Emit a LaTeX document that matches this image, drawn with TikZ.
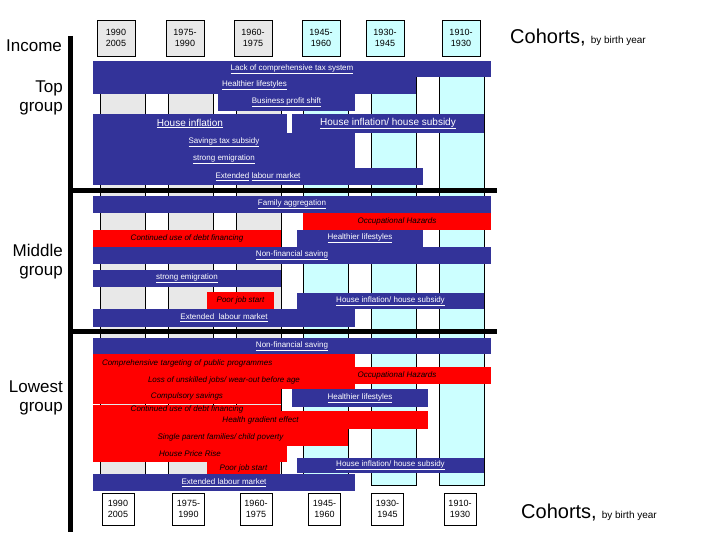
\documentclass[tikz,border=0pt]{standalone}
\usepackage{fontspec}
\setmainfont{Liberation Sans}
\usetikzlibrary{positioning}
\definecolor{barblue}{HTML}{333399}
\definecolor{barred}{HTML}{FF0000}
\definecolor{colgrey}{HTML}{E8E8E8}
\definecolor{colcyan}{HTML}{CCFFFF}
\tikzset{
	bluebar/.style={fill=barblue, text=white, inner sep=0pt, font=\fontsize{8}{9}\selectfont},
	redbar/.style={fill=barred, text=black, inner sep=0pt, font=\fontsize{8}{9}\selectfont\itshape},
	cohort/.style={draw, line width=0.8pt, align=center, inner sep=0pt, font=\fontsize{9}{11}\selectfont},
	grouplabel/.style={anchor=east, align=right, inner sep=0pt, font=\fontsize{17}{19}\selectfont},
	cohortnote/.style={anchor=west, inner sep=0pt},
	column/.style={draw, line width=0.6pt},
	divider/.style={line width=5pt},
}

\begin{document}
\begin{tikzpicture}[x=1pt, y=-1pt]
	\useasboundingbox (0,0) rectangle (720,540);
	
	% cohort columns
	\foreach \x/\c in {100/colgrey, 168/colgrey, 236/colgrey, 303/colcyan, 371/colcyan, 439/colcyan}
		\draw[column, fill=\c] (\x,62) rectangle ++(45,423);
	
	\draw[divider] (70.5,36) -- (70.5,532);
	\draw[divider] (68,190.5) -- (497,190.5);
	\draw[divider] (68,331) -- (497,331);
	
	\node[inner sep=0pt, font=\fontsize{17}{19}\selectfont] (income) at (34,46) {Income};
	\node[grouplabel] (topgrp) at (63,98) {Top\\group};
	\node[grouplabel] (midgrp) at (63,262) {Middle\\group};
	\node[grouplabel] (lowgrp) at (63,398) {Lowest\\group};
	
	% cohorts, top
	\node[cohort, fill=colgrey, minimum width=38, minimum height=36] (top1) at (116,38) {1990\\2005};
	\node[cohort, fill=colgrey, minimum width=38, minimum height=36] (top2) at (185,38) {1975-\\1990};
	\node[cohort, fill=colgrey, minimum width=38, minimum height=36] (top3) at (253,38) {1960-\\1975};
	\node[cohort, fill=colcyan, minimum width=38, minimum height=36] (top4) at (321,38) {1945-\\1960};
	\node[cohort, fill=colcyan, minimum width=38, minimum height=36] (top5) at (385,38) {1930-\\1945};
	\node[cohort, fill=colcyan, minimum width=38, minimum height=36] (top6) at (461,38) {1910-\\1930};
	\node[cohortnote] (cohtop) at (510,38) {{\fontsize{20}{24}\selectfont Cohorts,}\hspace{5pt}{\fontsize{10}{12}\selectfont by birth year}};
	
	% top group
	\node[bluebar, minimum width=398, minimum height=16] (lack) at (292,69) {\underline{Lack of comprehensive tax system}};
	\node[bluebar, minimum width=323, minimum height=17] (healthy1) at (254.5,85.5) {\underline{Healthier lifestyles}};
	\node[bluebar, minimum width=137, minimum height=17] (business) at (286.5,102.5) {\underline{Business profit shift}};
	\node[bluebar, minimum width=194, minimum height=19, font=\fontsize{10}{12}\selectfont] (houseinf) at (190,123.5) {\underline{House inflation}};
	\node[bluebar, minimum width=192, minimum height=19, font=\fontsize{10}{12}\selectfont] (housesub1) at (388,123.5) {\underline{House inflation/ house subsidy}};
	\node[bluebar, minimum width=262, minimum height=18] (savings) at (224,142) {\underline{Savings tax subsidy}};
	\node[bluebar, minimum width=262, minimum height=17] (emig1) at (224,159.5) {\underline{strong emigration}};
	\node[bluebar, minimum width=330, minimum height=17] (extlab1) at (258,176.5) {\underline{Extended} \underline{labour market}};
	
	% middle group
	\node[bluebar, minimum width=398, minimum height=17] (famagg) at (292,204.5) {\underline{Family aggregation}};
	\node[redbar, minimum width=188, minimum height=17] (occup1) at (397,221.5) {Occupational Hazards};
	\node[redbar, minimum width=188, minimum height=17] (debt1) at (187,238.5) {Continued use of debt financing};
	\node[bluebar, minimum width=126, minimum height=17] (healthy2) at (360,238.5) {\underline{Healthier lifestyles}};
	\node[bluebar, minimum width=398, minimum height=17] (nonfin1) at (292,255.5) {\underline{Non-financial saving}};
	\node[bluebar, minimum width=188, minimum height=17] (emig2) at (187,278.5) {\underline{strong emigration}};
	\node[redbar, minimum width=67, minimum height=17] (poorjob1) at (240.5,300.5) {Poor job start};
	\node[bluebar, minimum width=187, minimum height=16] (housesub2) at (390.5,301) {\underline{House inflation/ house subsidy}};
	\node[bluebar, minimum width=262, minimum height=18] (extlab2) at (224,318) {\underline{Extended\ \ labour market}};
	
	% lowest group
	\node[bluebar, minimum width=398, minimum height=16] (nonfin2) at (292,346) {\underline{Non-financial saving}};
	\node[redbar, minimum width=262, minimum height=18, text width=244, align=left] (compr) at (224,363) {Comprehensive targeting of public programmes};
	\node[redbar, minimum width=262, minimum height=17] (loss) at (224,380.5) {Loss of unskilled jobs/ wear-out before age};
	\node[redbar, minimum width=188, minimum height=17] (occup2) at (397,375.5) {Occupational Hazards};
	\node[redbar, minimum width=188, minimum height=15] (compuls) at (187,396.5) {Compulsory savings};
	\node[bluebar, minimum width=136, minimum height=18] (healthy3) at (360,398) {\underline{Healthier lifestyles}};
	\node[redbar, minimum width=335, minimum height=18] (healthgrad) at (260.5,420) {Health gradient effect};
	\node[redbar, minimum width=188, minimum height=9] (debt2) at (187,409) {Continued use of debt financing};
	\node[redbar, minimum width=255, minimum height=17] (single) at (220.5,437.5) {Single parent families/ child poverty};
	\node[redbar, minimum width=194, minimum height=16] (pricerise) at (190,454) {House Price Rise};
	\node[redbar, minimum width=73, minimum height=13] (poorjob2) at (243.5,468.5) {Poor job start};
	\node[bluebar, minimum width=187, minimum height=15] (housesub3) at (390.5,465.5) {\underline{House inflation/ house subsidy}};
	\node[bluebar, minimum width=262, minimum height=17] (extlab3) at (224,482.5) {\underline{Extended labour market}};
	
	% cohorts, bottom
	\node[cohort, fill=white, minimum width=32, minimum height=32] (bot1) at (118,509) {1990\\2005};
	\node[cohort, fill=white, minimum width=32, minimum height=32] (bot2) at (188.5,509) {1975-\\1990};
	\node[cohort, fill=white, minimum width=32, minimum height=32] (bot3) at (256,509) {1960-\\1975};
	\node[cohort, fill=white, minimum width=32, minimum height=32] (bot4) at (324.5,509) {1945-\\1960};
	\node[cohort, fill=white, minimum width=32, minimum height=32] (bot5) at (387.5,509) {1930-\\1945};
	\node[cohort, fill=white, minimum width=32, minimum height=32] (bot6) at (460,509) {1910-\\1930};
	\node[cohortnote] (cohbot) at (521,513) {{\fontsize{20}{24}\selectfont Cohorts,}\hspace{5pt}{\fontsize{10}{12}\selectfont by birth year}};
	
\end{tikzpicture}
\end{document}
